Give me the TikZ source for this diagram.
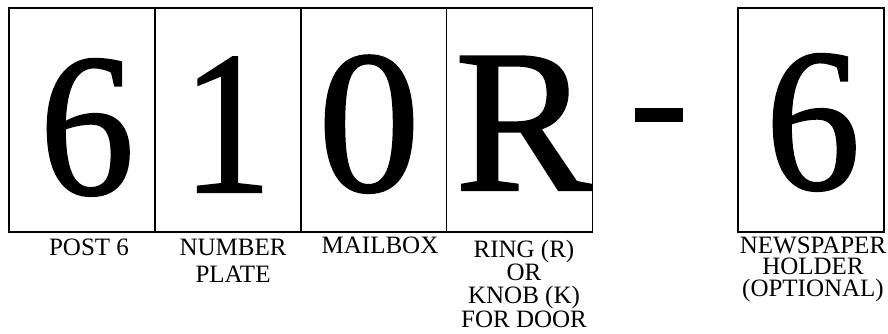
\documentclass[tikz,border=0pt]{standalone}
\usepackage{fontspec}
\setmainfont{Liberation Serif}
\newfontfamily\bigdigitfont[FakeBold=1.1]{Liberation Serif}
\begin{document}
\begin{tikzpicture}[x=1pt,y=-1pt,
  boxst/.style={draw, line width=1.2pt, inner sep=0pt, minimum height=224pt},
  digit/.style={anchor=base, inner sep=0pt, font=\bigdigitfont\fontsize{204}{204}\selectfont},
  lab/.style={anchor=north, inner sep=0pt, align=center, font=\fontsize{25}{#1}\selectfont},
  lab/.default=27]
\useasboundingbox (0,0) rectangle (888,334);
% boxes
\node[boxst, minimum width=146pt] (b1) at (82,120) {};
\node[boxst, minimum width=146pt] (b2) at (228,120) {};
\node[boxst, minimum width=145.5pt] (b3) at (373.75,120) {};
\node[boxst, minimum width=146pt] (b4) at (519.5,120) {};
\node[boxst, minimum width=146pt] (b5) at (811,120) {};
% digits
\node[digit, xscale=0.93] (d1) at (87,194) {6};
\node[digit, xscale=0.88] (d2) at (227,192) {1};
\node[digit] (d3) at (369,191) {0};
\node[digit] (d4) at (523,190) {R};
\node[digit, xscale=0.93] (d5) at (813,189) {6};
% dash
\node[fill, inner sep=0pt, minimum width=48pt, minimum height=14pt] (dash) at (659,115) {};
% labels
\node[lab] (l1) at (89,238.5) {POST 6};
\node[lab=27] (l2) at (233,238.5) {NUMBER\\PLATE};
\node[lab] (l3) at (380,237) {MAILBOX};
\node[lab=23.3] (l4) at (524,239.7) {RING (R)\\OR\\KNOB (K)\\FOR DOOR};
\node[lab=21.5] (l5) at (813,236.5) {NEWSPAPER\\HOLDER\\(OPTIONAL)};
\end{tikzpicture}
\end{document}
